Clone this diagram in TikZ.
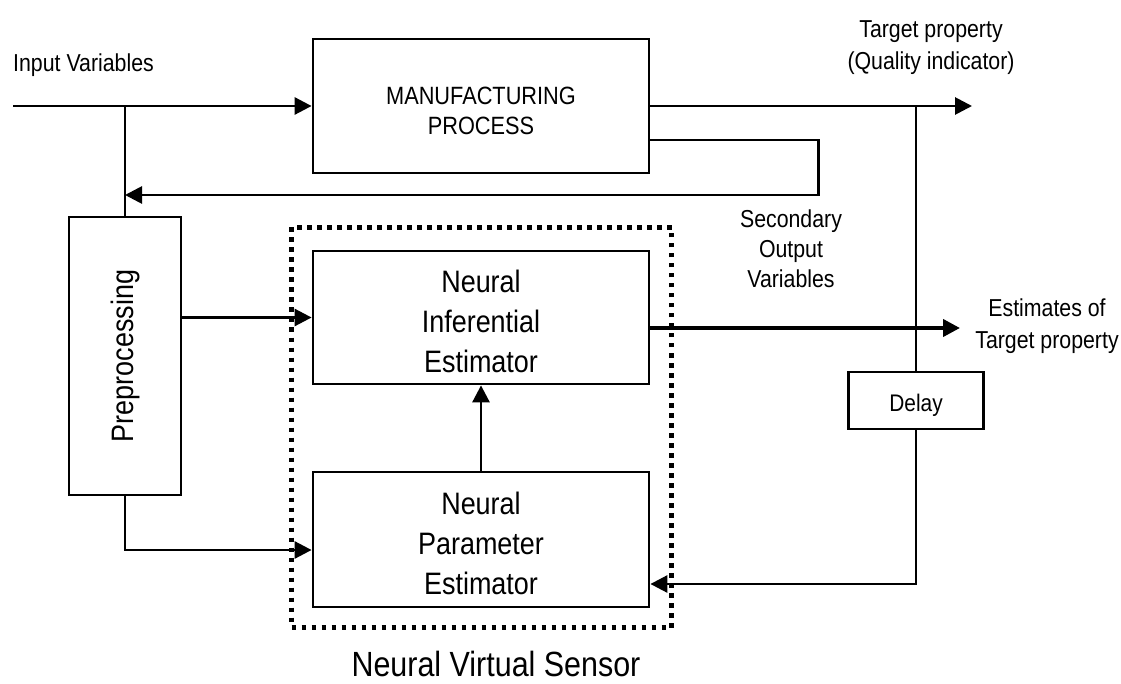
\documentclass[tikz,border=0pt]{standalone}
\usepackage{fontspec}
\setmainfont{Liberation Sans}[FakeStretch=0.87]
\usetikzlibrary{arrows.meta}
\newcommand{\toppad}[1]{\rule{0pt}{#1}}
\tikzstyle{every node}=[inner sep=0pt]
\tikzstyle{box}=[draw,line width=2.8pt,align=center,font=\fontsize{31}{40}\selectfont]
\tikzstyle{lbl}=[align=center,font=\fontsize{24.5}{31}\selectfont]
\tikzstyle{wire}=[line width=2.8pt]
\tikzstyle{sig}=[wire,-{Triangle[length=17pt,width=17pt]}]

\begin{document}
\begin{tikzpicture}[x=1pt,y=-1pt]
			\useasboundingbox (0,0) rectangle (1121,684);
			\node[box,minimum width=336pt,minimum height=134pt,font=\fontsize{25}{30}\selectfont] (mp) at (481,106) {\toppad{28pt}MANUFACTURING\\PROCESS};
			\node[box,minimum width=112pt,minimum height=278pt] (prep) at (125,356) {\rotatebox{90}{Preprocessing}};
			\node[draw,line width=4.5pt,dash pattern=on 4.5pt off 5.5pt,minimum width=380pt,minimum height=400pt] (nvs) at (481.5,427.5) {};
			\node[box,minimum width=336pt,minimum height=133pt] (nie) at (481,317.5) {\toppad{31pt}Neural\\Inferential\\Estimator};
			\node[box,minimum width=336pt,minimum height=135pt] (npe) at (481,539.5) {\toppad{31pt}Neural\\Parameter\\Estimator};
			\node[box,minimum width=135pt,minimum height=57pt,font=\fontsize{24}{30}\selectfont] (delay) at (916,400.5) {\toppad{26pt}Delay};
			\node[lbl,anchor=base west] (inlbl) at (13,71.5) {Input Variables};
			\node[lbl,font=\fontsize{24.5}{32}\selectfont] (tplbl) at (931,47.5) {Target property\\(Quality indicator)};
			\node[lbl,font=\fontsize{24.5}{30}\selectfont] (seclbl) at (791,249) {Secondary\\Output\\Variables};
			\node[lbl,font=\fontsize{24.5}{32}\selectfont] (estlbl) at (1047,326) {Estimates of\\Target property};
			\node[font=\fontsize{35}{40}\selectfont,anchor=base] (nvslbl) at (496,676) {Neural Virtual Sensor};
			\coordinate (in) at (13,106);
			\coordinate (tap) at (125,106);
			\coordinate (tp) at (972,106);
			\coordinate (dtap) at (916,106);
			\coordinate (fb) at (125,195);
			\coordinate (est) at (960,328);
			\draw[sig] (in) -- (mp.west);
			\draw[wire] (tap) -- (prep.north);
			\draw[sig] (mp.east) -- (tp);
			\draw[wire] (dtap) -- (delay.north);
			\draw[sig] ([yshift=-34pt]mp.east) -- ++(168,0) |- (fb);
			\draw[sig] (prep.east |- nie.west) -- (nie.west);
			\draw[sig] (prep.south) |- ([yshift=-10.5pt]npe.west);
			\draw[sig] (npe.north) -- (nie.south);
			\draw[sig,line width=4pt] (nie.east |- est) -- (est);
			\draw[sig] (delay.south) |- ([yshift=-44.5pt]npe.east);
		\end{tikzpicture}
\end{document}
